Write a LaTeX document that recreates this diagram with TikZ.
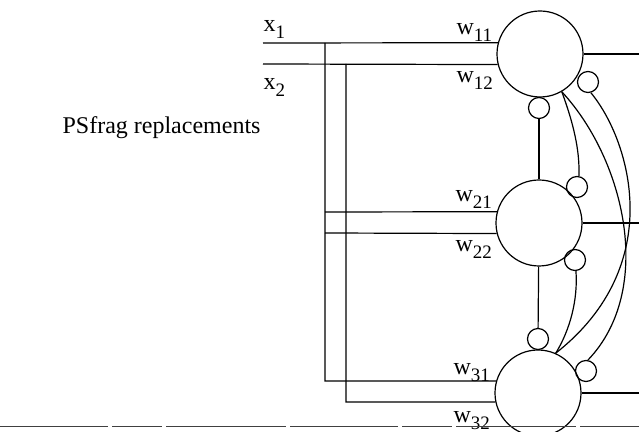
\documentclass[tikz,border=0pt]{standalone}
\usepackage{fontspec}
\setmainfont{Liberation Serif}
\usepackage{tikz}
\newcommand{\lowidx}[1]{\raisebox{-3.5pt}{\fontsize{9.5}{10}\selectfont #1}}

\begin{document}
\begin{tikzpicture}[x=0.5pt,y=-0.5pt,line width=0.6pt,
  neuron/.style={draw,circle,minimum size=43pt,inner sep=0pt},
  syn/.style={draw,circle,minimum size=10.5pt,inner sep=0pt},
  lbl/.style={anchor=base west,inner sep=0pt,font=\fontsize{12}{14}\selectfont},
  cut/.style={draw=black!75,line width=0.5pt,dash pattern=on 54pt off 2pt on 25pt off 2pt on 60pt off 2pt},
]
\useasboundingbox (0,0) rectangle (639,432);
\node[lbl] (psfrag) at (62,134) {PSfrag replacements};
\node[neuron] (n1) at (540,54) {};
\node[neuron] (n2) at (539,223) {};
\node[neuron] (n3) at (538,393) {};
\node[syn] (s12) at (539,108) {};
\node[syn] (s13) at (588,82) {};
\node[syn] (s21) at (577,187) {};
\node[syn] (s23) at (575,260) {};
\node[syn] (s32) at (538,339) {};
\node[syn] (s31) at (586,371) {};
\node[lbl] (x1lbl) at (263,32) {x\lowidx{1}};
\node[lbl] (x2lbl) at (263,90) {x\lowidx{2}};
\node[lbl] (w11lbl) at (456,35) {w\lowidx{11}};
\node[lbl] (w12lbl) at (456,83) {w\lowidx{12}};
\node[lbl] (w21lbl) at (455,202) {w\lowidx{21}};
\node[lbl] (w22lbl) at (455,252) {w\lowidx{22}};
\node[lbl] (w31lbl) at (453,375) {w\lowidx{31}};
\node[lbl] (w32lbl) at (453,423) {w\lowidx{32}};
\coordinate (in1) at (263,43);
\coordinate (in2) at (263,64);
\coordinate (bus1) at (325,43);
\coordinate (bus2) at (346,64);
\coordinate (w21s) at (325,212);
\coordinate (w22s) at (325,233);
\coordinate (w31s) at (325,381);
\coordinate (w32s) at (346,402);
\coordinate (o1) at (639,54);
\coordinate (o2) at (639,223);
\coordinate (o3) at (639,393);
\coordinate (cutl) at (0,427);
\coordinate (cutr) at (639,427);
\draw (in1) -- (n1.165);
\draw (in2) -- (n1.194);
\draw (bus1) -- (w31s) -- (n3.164);
\draw (bus2) -- (w32s) -- (n3.192);
\draw (w21s) -- (n2.165);
\draw (w22s) -- (n2.194);
\draw (n1.east) -- (o1);
\draw (n2.east) -- (o2);
\draw (n3.east) -- (o3);
\draw (s12) -- (n2);
\draw (n2) -- (s32);
\draw (n1.-60) .. controls (573,122) and (580,150) .. (s21.80);
\draw (s23.-85) .. controls (578,300) and (570,330) .. (n3.66);
\draw (n1.-60) .. controls (625,160) and (655,290) .. (s31.80);
\draw (s13.-75) .. controls (630,140) and (668,265) .. (n3.66);
\draw[cut] (cutl) -- (cutr);
\end{tikzpicture}
\end{document}
